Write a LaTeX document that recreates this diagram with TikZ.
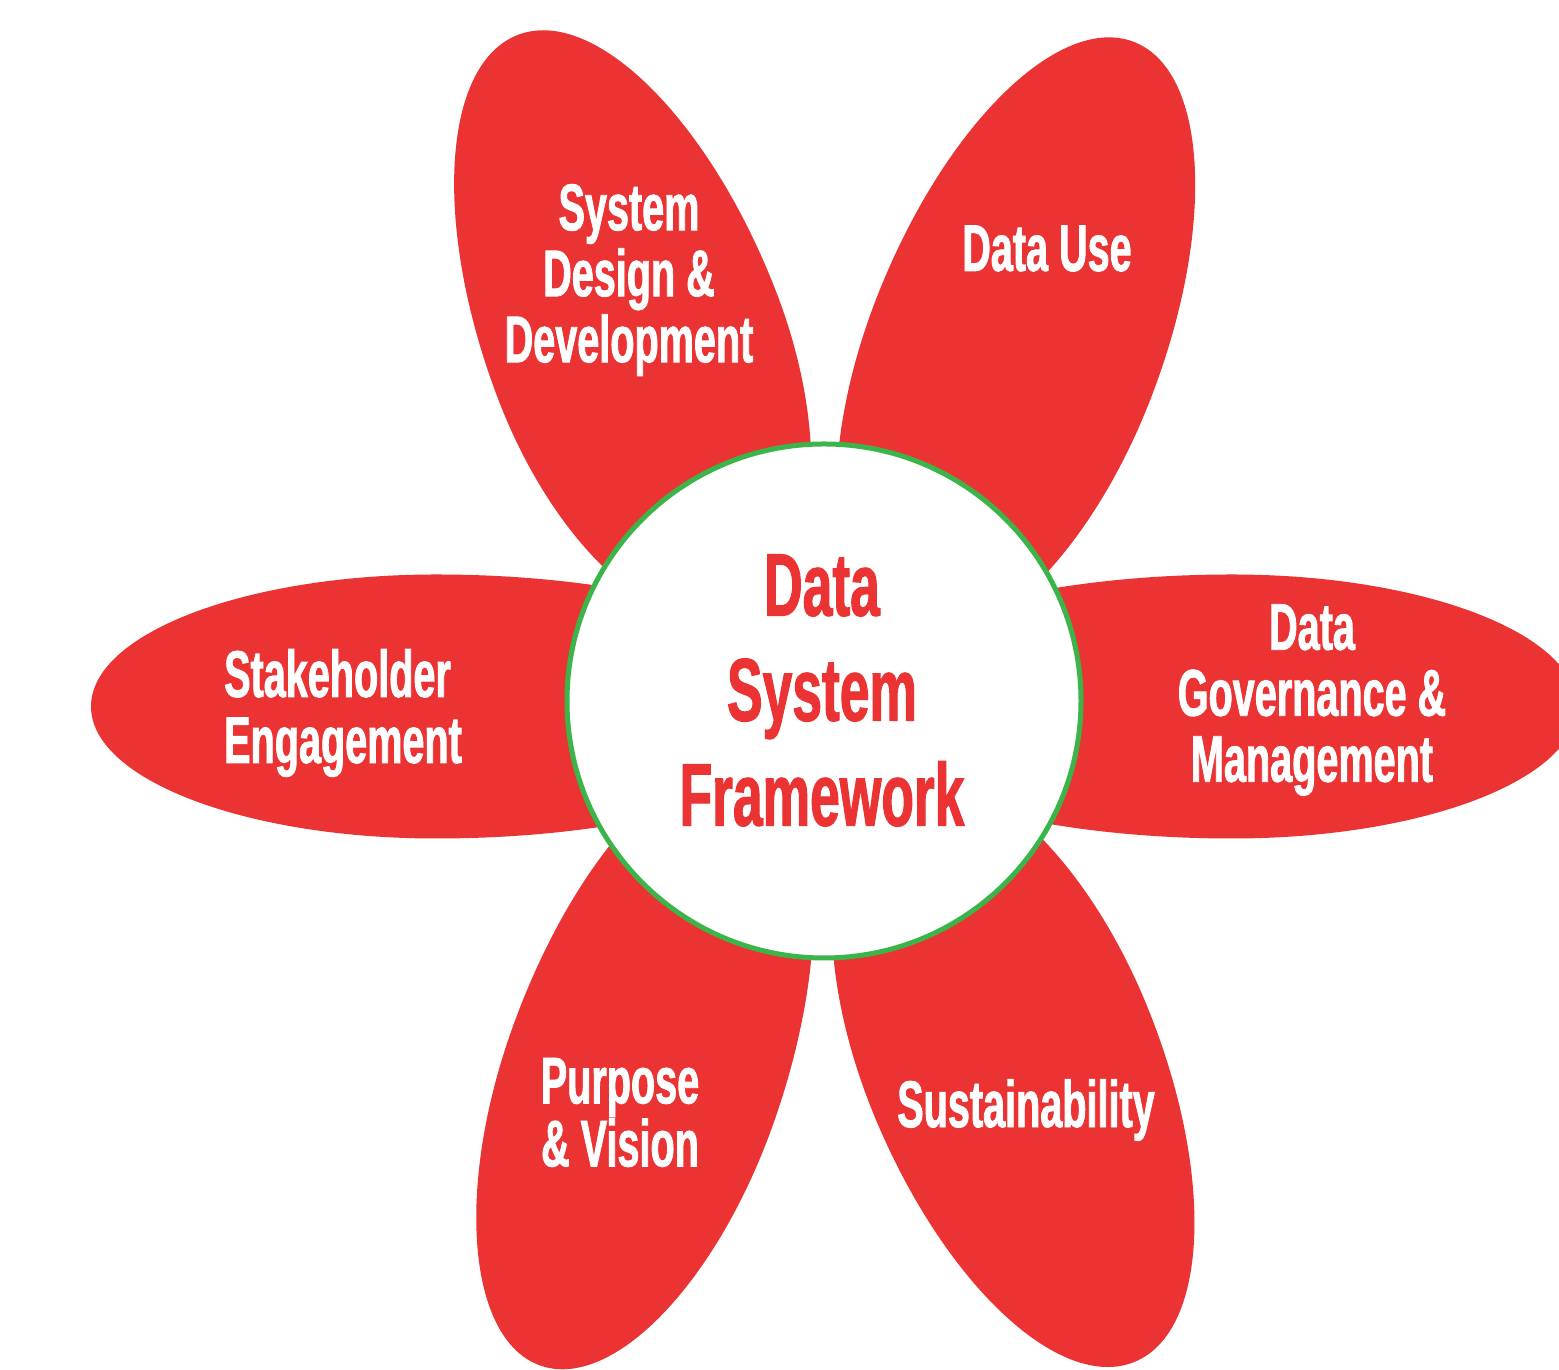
\documentclass[tikz,border=0pt]{standalone}
\usepackage{fontspec}
\setmainfont{Liberation Sans}[FakeStretch=0.6, FakeBold=1.2]
\usetikzlibrary{positioning}
\definecolor{petalred}{RGB}{236,51,52}
\definecolor{rimgreen}{RGB}{59,181,74}
\tikzstyle{petal} = [fill=petalred]
\tikzstyle{petaltext} = [text=white, align=center, inner sep=0, font=\bfseries\fontsize{66}{66}\selectfont]
\tikzstyle{hub} = [circle, draw=rimgreen, line width=5, fill=white, minimum size=514, inner sep=0]
\tikzstyle{title} = [text=petalred, align=center, inner sep=0, font=\bfseries\fontsize{89}{105}\selectfont]
% one petal: #1 direction, #2 side offset, #3 widest point, #4 half width,
% #5 outer and #6 inner half length
\newcommand{\drawpetal}[6]{%
  \fill[petal, shift={(centre)}, rotate=#1, yshift=#2]
    (#3,#4) arc[start angle=90, end angle=-90, x radius=#5, y radius=#4]
    arc[start angle=270, end angle=90, x radius=#6, y radius=#4] -- cycle;}

\begin{document}
\begin{tikzpicture}[x=1pt, y=1pt]
\clip (0,0) rectangle (1559,1370);
\coordinate (centre) at (823,666);

% petals first, the hub covers their inner ends
\drawpetal{111}{45}{400}{149}{334}{290}
\drawpetal{68.5}{-47}{400}{146}{330}{310}
\drawpetal{180}{2.5}{387}{132}{345}{400}
\drawpetal{0}{-2.5}{409}{132}{345}{400}
\drawpetal{250.5}{-45.7}{412}{139}{306}{330}
\drawpetal{292.4}{37.5}{400}{147}{327}{303}

\node (hub) [hub] at (824,669) {};
\node (name) [title] at (822,679.5) {Data\\System\\Framework};

\node (design) [petaltext] at (629,1090) {System\\Design \&\\Development};
\node (use) [petaltext] at (1047,1121.5) {Data Use};
\node (stake) [petaltext, align=left, anchor=west] at (224,657) {Stakeholder\\Engagement};
\node (govern) [petaltext] at (1312,670) {Data\\Governance \&\\Management};
\node (purpose) [petaltext, font=\bfseries\fontsize{66}{63}\selectfont] at (620,257.5) {Purpose\\\& Vision};
\node (sustain) [petaltext] at (1026,260) {Sustainability};
\end{tikzpicture}
\end{document}
